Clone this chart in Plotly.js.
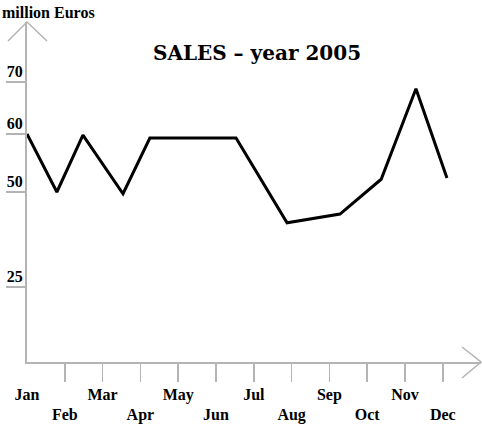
<!DOCTYPE html>
<html>
<head>
<meta charset="utf-8">
<script src="https://cdn.plot.ly/plotly-3.0.1.min.js"></script>
<style>html,body{margin:0;padding:0;background:#fff;}#chart{width:482px;height:425px;}</style>
</head>
<body>
<div id="chart"></div>
<script>
// ---- data ----
const months = ['Jan','Feb','Mar','Apr','May','Jun','Jul','Aug','Sep','Oct','Nov','Dec'];
// horizontal position of each point, in month units (as drawn in the original)
const monthPos = [1, 1.79, 2.48, 3.54, 4.25, 5.39, 6.53, 7.88, 9.28, 10.37, 11.29, 12.11];
// sales, million Euros (read against the 50–60 part of the axis)
const sales = [60.0, 50.0, 59.8, 49.7, 59.3, 59.3, 59.3, 44.7, 46.2, 52.2, 67.8, 52.4];
// y tick labels and where the original draws them
const yTickText = ['70', '60', '50', '25'];
const yTickVals = [68.97, 60, 50, 33.62];
const titleText = 'SALES \u2013 year 2005';
const unitText = 'million Euros';

// ---- layout constants ----
const W = 482, H = 425;
const M = {l: 27, r: 1, t: 22, b: 63};
const PW = W - M.l - M.r, PH = H - M.t - M.b;
const px = x => (x - M.l) / PW;
const py = y => (H - M.b - y) / PH;
const axisGrey = '#b4b4b4';
const serif = {family: 'Liberation Serif, Times New Roman, serif', color: '#000', weight: 'bold'};

const monthIdx = months.map((m, i) => i + 1);
const tickIdx = monthIdx.slice(1);
const oddIdx = monthIdx.filter((v, i) => i % 2 === 0);
const oddTxt = months.filter((v, i) => i % 2 === 0);
const evenIdx = monthIdx.filter((v, i) => i % 2 === 1);
const evenTxt = months.filter((v, i) => i % 2 === 1);

const traces = [
  {x: monthPos, y: sales, type: 'scatter', mode: 'lines',
   line: {color: '#000', width: 3}, hoverinfo: 'skip', showlegend: false},
  {x: [], y: [], xaxis: 'x2', type: 'scatter', showlegend: false},
  {x: [], y: [], xaxis: 'x3', type: 'scatter', showlegend: false}
];

const xr = [1, 1 + PW / 37.8];
const baseX = {range: xr, showgrid: false, zeroline: false, fixedrange: true};

const layout = {
  width: W, height: H,
  margin: M,
  paper_bgcolor: '#fff', plot_bgcolor: '#fff',
  showlegend: false,
  title: {text: titleText, x: 257 / W, xanchor: 'center', xref: 'container',
          y: 1 - 53 / H, yanchor: 'middle', yref: 'container',
          font: {family: 'DejaVu Serif, serif', size: 20, color: '#000', weight: 'bold'}},
  xaxis: Object.assign({}, baseX, {
    showline: true, linecolor: axisGrey, linewidth: 2,
    tickmode: 'array', tickvals: tickIdx, ticks: 'outside', ticklen: 18,
    tickwidth: 1.5, tickcolor: axisGrey, showticklabels: false
  }),
  xaxis2: Object.assign({}, baseX, {
    overlaying: 'x', anchor: 'y', side: 'bottom', showline: false,
    tickmode: 'array', tickvals: oddIdx, ticktext: oddTxt, ticks: '',
    ticklabelstandoff: 21, tickfont: Object.assign({size: 16}, serif)
  }),
  xaxis3: Object.assign({}, baseX, {
    overlaying: 'x', anchor: 'y', side: 'bottom', showline: false,
    tickmode: 'array', tickvals: evenIdx, ticktext: evenTxt, ticks: '',
    ticklabelstandoff: 41, tickfont: Object.assign({size: 16}, serif)
  }),
  yaxis: {
    range: [20.69, 79.31], showgrid: false, zeroline: false, fixedrange: true,
    showline: true, linecolor: axisGrey, linewidth: 2,
    tickmode: 'array', tickvals: yTickVals, ticktext: yTickText,
    ticks: 'outside', ticklen: 19, tickwidth: 1.5, tickcolor: axisGrey,
    ticklabelposition: 'outside top', ticklabelstandoff: -1, ticklabelshift: 1,
    tickfont: Object.assign({size: 16}, serif)
  },
  annotations: [
    {text: unitText, xref: 'paper', yref: 'paper', x: px(0), y: py(12),
     xanchor: 'left', yanchor: 'middle', showarrow: false,
     font: Object.assign({size: 16}, serif)}
  ],
  shapes: [
    {type: 'path', xref: 'paper', yref: 'paper',
     path: `M ${px(8)} ${py(41)} L ${px(27)} ${py(22)} L ${px(47)} ${py(41)}`,
     line: {color: axisGrey, width: 1.5}},
    {type: 'path', xref: 'paper', yref: 'paper',
     path: `M ${px(462)} ${py(347)} L ${px(481)} ${py(362)} L ${px(462)} ${py(378)}`,
     line: {color: axisGrey, width: 1.5}}
  ]
};

Plotly.newPlot('chart', traces, layout, {staticPlot: true, displayModeBar: false});
</script>
</body>
</html>
